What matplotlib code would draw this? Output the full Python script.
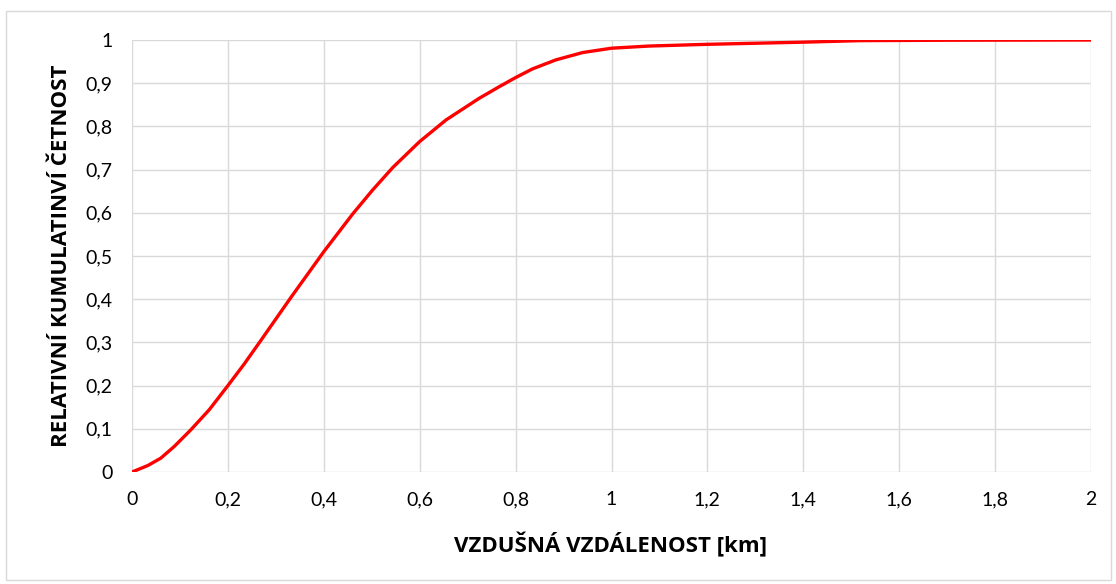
import matplotlib
matplotlib.use("Agg")
import matplotlib.pyplot as plt
from matplotlib.patches import Rectangle

plt.rcParams['font.family'] = ['Lato', 'DejaVu Sans']

# data
distance_km = [0, 0.033, 0.06, 0.088, 0.123, 0.161, 0.2, 0.234, 0.269, 0.332,
               0.4, 0.46, 0.502, 0.544, 0.6, 0.655, 0.724, 0.766, 0.8, 0.835,
               0.884, 0.94, 1.0, 1.078, 1.2, 1.4, 1.517, 1.7, 2.0]
cum_freq = [0, 0.015, 0.032, 0.059, 0.098, 0.144, 0.200, 0.250, 0.305, 0.405,
            0.510, 0.597, 0.653, 0.705, 0.765, 0.815, 0.865, 0.892, 0.913, 0.933,
            0.954, 0.971, 0.981, 0.986, 0.990, 0.995, 0.9985, 0.9995, 1.0]
x_ticks = [0, 0.2, 0.4, 0.6, 0.8, 1.0, 1.2, 1.4, 1.6, 1.8, 2.0]
x_tick_labels = ["0", "0,2", "0,4", "0,6", "0,8", "1", "1,2", "1,4", "1,6", "1,8", "2"]
y_ticks = [0, 0.1, 0.2, 0.3, 0.4, 0.5, 0.6, 0.7, 0.8, 0.9, 1.0]
y_tick_labels = ["0", "0,1", "0,2", "0,3", "0,4", "0,5", "0,6", "0,7", "0,8", "0,9", "1"]
x_title = "VZDUŠNÁ VZDÁLENOST [km]"
y_title = "RELATIVNÍ KUMULATINVÍ ČETNOST"

W, H = 1116, 584
fig = plt.figure(figsize=(W / 100, H / 100), dpi=100)
x0, x1, y0, y1 = 132, 1091, 472, 40
ax = fig.add_axes([x0 / W, 1 - y0 / H, (x1 - x0) / W, (y0 - y1) / H])

# outer chart border
fig.patches.append(Rectangle((5.5 / W, 1 - 579.5 / H), (1105 / W), (569 / H),
                             transform=fig.transFigure, fill=False,
                             edgecolor='#d9d9d9', linewidth=1.0))

ax.plot(distance_km, cum_freq, color='#ff0000', linewidth=2.4,
        solid_joinstyle='round', solid_capstyle='round', zorder=3)

ax.set_xlim(0, 2)
ax.set_ylim(0, 1)
ax.set_xticks(x_ticks)
ax.set_xticklabels(x_tick_labels)
ax.set_yticks(y_ticks)
ax.set_yticklabels(y_tick_labels)
ax.grid(True, color='#d9d9d9', linewidth=1.0)
ax.set_axisbelow(True)
for s in ax.spines.values():
    s.set_visible(False)
ax.tick_params(length=0, labelsize=14, colors='black')
ax.tick_params(axis='y', pad=14)
ax.tick_params(axis='x', pad=14)

title_font = dict(fontsize=16, fontweight='bold', family=['Open Sans', 'DejaVu Sans'])
ax.set_xlabel(x_title, **title_font)
ax.set_ylabel(y_title, **title_font)
ax.xaxis.set_label_coords((611 - x0) / (x1 - x0), -(545 - y0) / (y0 - y1))
ax.yaxis.set_label_coords(-(x0 - 62) / (x1 - x0), 0.5)
ax.xaxis.label.set_va('center')
ax.yaxis.label.set_va('center')

fig.savefig("out.png", dpi=100)
